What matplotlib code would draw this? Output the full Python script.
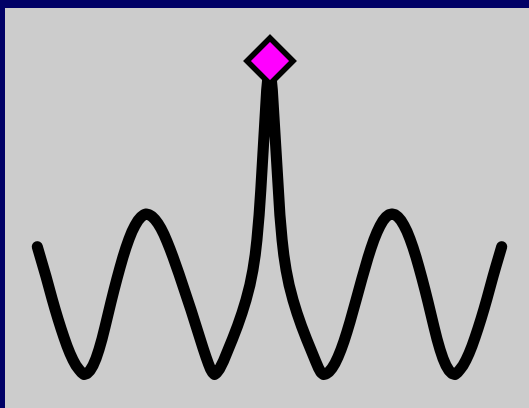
import numpy as np
import matplotlib
matplotlib.use("Agg")
import matplotlib.pyplot as plt

# Horizontal positions of the sampled curve
x = [37.3, 40, 43, 46, 49, 52, 55, 58, 61, 64, 67, 70, 73, 76, 79, 81.5, 84,
     87, 90, 93, 96, 99, 102, 105, 108, 111, 114, 117, 120, 123, 126, 129,
     132, 135, 138, 141, 144, 146,
     149, 152, 155, 158, 161, 164, 167, 170, 173, 176, 179, 182, 185, 188,
     191, 194, 197, 200, 203, 206, 208.5, 210.5, 212.5, 214.5,
     216.5, 219.5, 223.5, 228, 232.5, 237.5, 242, 246, 249.9, 252.9, 255.2,
     256.9, 259.1, 260.8, 262.3, 263.7, 265.2, 266.7, 269.5,
     272.3, 273.8, 275.3, 276.7, 278.2, 279.9, 282.1, 283.8, 286.1, 289.1,
     293, 297, 301.5, 306.5, 311, 315.5, 318.5, 321, 323.5,
     326, 329, 332, 335, 338, 341, 344, 347, 350, 353, 356, 359, 362, 365,
     368, 371, 374, 377, 380, 383, 386, 389, 392,
     395, 398, 401, 404, 407, 410, 413, 416, 419, 422, 425, 428, 431, 434,
     437, 440, 443, 446, 449, 452, 455,
     457.5, 460, 463, 466, 469, 472, 475, 478, 481, 484, 487, 490, 493, 496,
     499, 501.7]

# Curve heights at those positions
y = [161.3, 152, 142, 131.5, 120.5, 109.5, 99, 89, 79.5, 70.5, 62, 54.5, 48,
     42.5, 38.5, 35.5, 33.5,
     34.5, 37.5, 42.5, 49.5, 58.5, 69, 81, 93.5, 106, 118, 129.5, 140.5, 151,
     160.5, 169, 176.5, 182.5, 187.5, 191, 193.3, 194,
     193.3, 191.5, 188.5, 184.5, 179.5, 173.5, 166.5, 159, 151, 142.5, 134,
     125, 116, 107, 98, 88.5, 79, 69.5, 60, 51, 44, 39, 35.5, 33.5,
     35, 39, 47, 58, 69, 82, 95, 108, 123, 138, 153, 168, 193, 218, 243, 268,
     293, 318, 347,
     318, 293, 268, 243, 218, 193, 168, 153, 138, 123, 108, 95, 82, 69, 58,
     47, 40, 35.5, 33.5,
     34.1, 36.2, 39.8, 44.7, 51, 58.4, 66.8, 76.2, 86.2, 96.8, 107.7, 118.7,
     129.6, 140.2, 150.4, 159.8, 168.4, 175.8, 182.1, 187.3, 191, 193.3, 194,
     193.3, 191, 187.5, 182.5, 176.5, 169, 160.5, 151, 140.5, 129.5, 118, 106,
     93.5, 81, 69, 58.5, 49.5, 42.5, 37.5, 34.5, 33.5,
     35.5, 38.5, 42.5, 48, 54.5, 62, 70.5, 79.5, 89, 99, 109.5, 120.5, 131.5,
     142, 152, 161.3]

fig = plt.figure(figsize=(5.29, 4.08), dpi=100, facecolor="#000066")
ax = fig.add_axes([5 / 529, 0, 524 / 529, 400 / 408])
ax.set_facecolor("#cccccc")
ax.set_xlim(5, 529)
ax.set_ylim(0, 400)
ax.set_xticks([])
ax.set_yticks([])
for spine in ax.spines.values():
    spine.set_visible(False)

# Thick black trace with a diamond marking its highest point
peak = int(np.argmax(y))
ax.plot(x, y, color="black", lw=8, solid_capstyle="round",
        solid_joinstyle="round", marker="D", markevery=[peak], ms=23,
        mfc="magenta", mec="black", mew=4)

fig.savefig("out.png", dpi=100, facecolor=fig.get_facecolor())
